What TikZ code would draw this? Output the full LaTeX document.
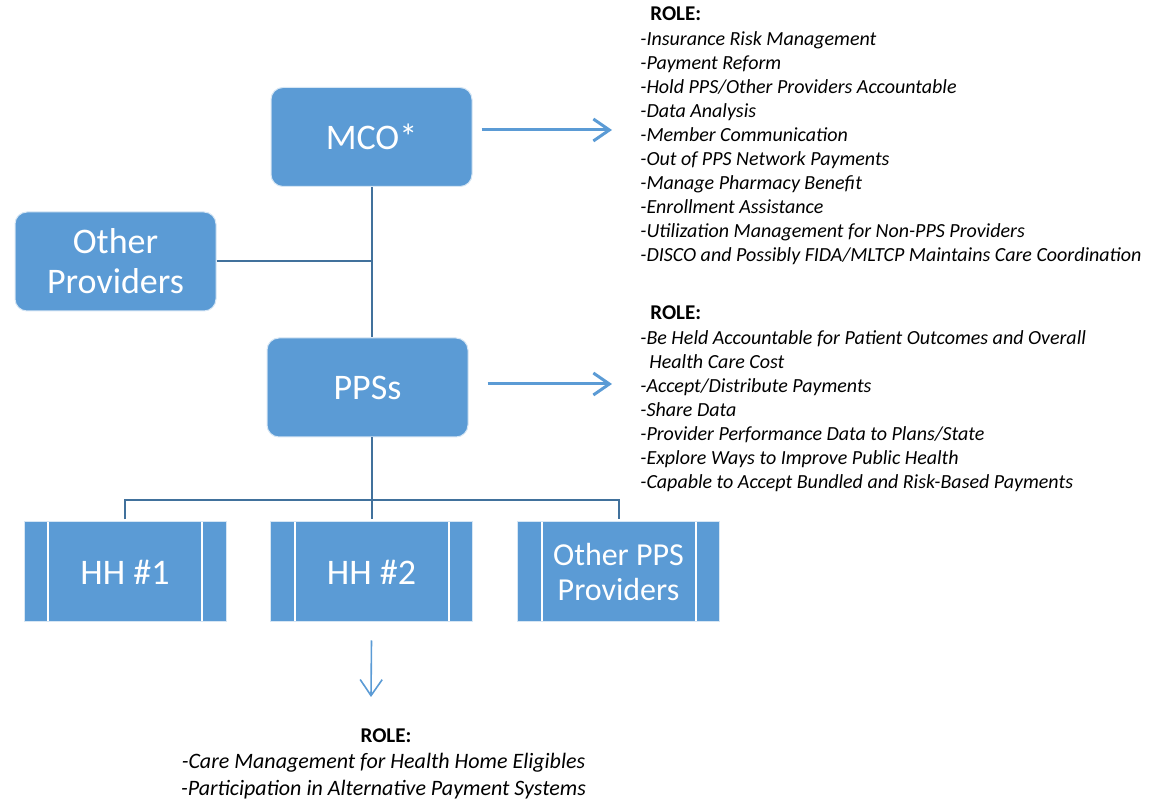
\documentclass[tikz,border=0pt]{standalone}
\usepackage{fontspec}
\setmainfont{Carlito}
\usetikzlibrary{positioning,arrows.meta}

\definecolor{boxblue}{HTML}{5B9BD5}
\definecolor{lineblue}{HTML}{41719C}

\tikzset{
  entity/.style={rounded corners=6pt, fill=boxblue, draw=white!75!boxblue, line width=0.5pt,
    text=white, minimum width=100.5pt, minimum height=49.5pt, align=center,
    font=\fontsize{18}{20}\selectfont},
  provider/.style={fill=boxblue, draw=white!75!boxblue, line width=0.5pt,
    text=white, minimum width=101pt, minimum height=50pt, align=center,
    font=\fontsize{18}{20}\selectfont,
    path picture={
      \draw[white, line width=1pt] ([xshift=12pt]path picture bounding box.north west)
        -- ([xshift=12pt]path picture bounding box.south west);
      \draw[white, line width=1pt] ([xshift=-12pt]path picture bounding box.north east)
        -- ([xshift=-12pt]path picture bounding box.south east);
    }},
  link/.style={draw=lineblue, line width=1pt},
  rolearrow/.style={draw=boxblue, line width=1.5pt, -{Straight Barb[length=8pt,width=11pt]}},
  hharrow/.style={draw=boxblue, line width=0.8pt, -{Straight Barb[length=8pt,width=11pt]}},
  roletext/.style={font=\fontsize{10}{12}\selectfont\itshape, inner sep=0pt},
  rolehead/.style={font=\fontsize{10.5}{12}\selectfont\bfseries, inner sep=0pt}
}

\begin{document}
\begin{tikzpicture}[x=0.5pt, y=-0.5pt]

\useasboundingbox (0,0) rectangle (1153,801);

% Boxes
\node[entity] (mco)   at (371.5,137)   {MCO*};
\node[entity] (other) at (115.5,261.5) {Other\\Providers};
\node[entity] (pps)   at (367.5,387.5) {PPSs};

\node[provider] (hh1)      at (125,572)   {HH \#1};
\node[provider] (hh2)      at (371.5,572) {HH \#2};
\node[provider, font=\fontsize{16}{17.5}\selectfont] (hhother) at (618.5,572) {Other PPS\\Providers};

% Connectors
\coordinate (bus) at (372,500);
\draw[link] (mco.south) -- (mco.south |- pps.north);
\draw[link] (other.east) -- (other.east -| mco.south);
\draw[link] (bus |- pps.south) -- (bus);
\draw[link] ([yshift=1pt]hh1.north) |- (bus) -| ([yshift=1pt]hhother.north);
\draw[link] (bus) -- ([yshift=1pt]bus |- hh2.north);

% Arrows
\coordinate (mcotip) at (612,130);
\coordinate (ppstip) at (612,384);
\coordinate (hhtip)  at (371,697);
\draw[rolearrow] ([xshift=4.5pt]mcotip -| mco.east) -- (mcotip);
\draw[rolearrow] ([xshift=9.5pt]ppstip -| pps.east) -- (ppstip);
\draw[hharrow] ([yshift=-9pt]hh2.south) -- (hhtip);

% MCO role
\node[rolehead, anchor=base west] (mcohead) at (650,21) {ROLE:};
\foreach \txt [count=\i] in {-Insurance Risk Management,
                             -Payment Reform,
                             -Hold PPS/Other Providers Accountable,
                             -Data Analysis,
                             -Member Communication,
                             -Out of PPS Network Payments,
                             -Manage Pharmacy Benefit,
                             -Enrollment Assistance,
                             -Utilization Management for Non-PPS Providers,
                             -DISCO and Possibly FIDA/MLTCP Maintains Care Coordination}
  \node[roletext, anchor=base west] (mcorole\i) at (640,{22+24*\i}) {\txt};

% PPS role
\node[rolehead, anchor=base west] (ppshead) at (650,320) {ROLE:};
\foreach \dx/\txt [count=\i] in {0/{-Be Held Accountable for Patient Outcomes and Overall},
                                 9/{Health Care Cost},
                                 0/{-Accept/Distribute Payments},
                                 0/{-Share Data},
                                 0/{-Provider Performance Data to Plans/State},
                                 0/{-Explore Ways to Improve Public Health},
                                 0/{-Capable to Accept Bundled and Risk-Based Payments}}
  \node[roletext, anchor=base west] (ppsrole\i) at (640+\dx,{321+24*\i}) {\txt};

% HH role
\node[rolehead, anchor=base] (hhhead) at (386,743) {ROLE:};
\node[roletext, font=\fontsize{11}{13}\selectfont\itshape, anchor=base] (hhrole1) at (383.5,769) {-Care Management for Health Home Eligibles};
\node[roletext, font=\fontsize{11}{13}\selectfont\itshape, anchor=base] (hhrole2) at (383.5,796) {-Participation in Alternative Payment Systems};

\end{tikzpicture}
\end{document}
